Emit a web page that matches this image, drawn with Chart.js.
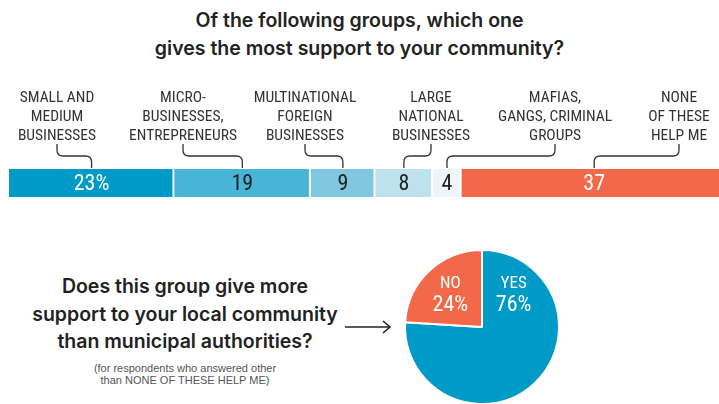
<!DOCTYPE html>
<html><head><meta charset="utf-8">
<script src="https://cdn.jsdelivr.net/npm/chart.js@4"></script>
<style>
html,body{margin:0;padding:0;width:719px;height:404px;overflow:hidden;background:#fff;}
#title{position:absolute;left:0;top:6px;width:719px;text-align:center;font:600 19.5px 'Inter',sans-serif;line-height:28px;color:#222;}
#barWrap{position:absolute;left:0;top:0;width:727px;height:210px;}
#pieWrap{position:absolute;left:402px;top:247px;width:160px;height:160px;}
#q{position:absolute;left:15px;top:273px;width:340px;text-align:center;font:600 19.5px 'Inter',sans-serif;line-height:27.5px;color:#222;}
#note{position:absolute;left:15px;top:363px;width:340px;text-align:center;font:11px 'Liberation Sans','Roboto',sans-serif;line-height:11.5px;color:#555;}
#arrow{position:absolute;left:340px;top:317px;}
</style></head><body>
<div id="title">Of the following groups, which one<br>gives the most support to your community?</div>
<div id="barWrap"><canvas id="bar" width="727" height="210"></canvas></div>
<div id="q">Does this group give more<br>support to your local community<br>than municipal authorities?</div>
<div id="note">(for respondents who answered other<br>than NONE OF THESE HELP ME)</div>
<svg id="arrow" width="55" height="20"><line x1="5" y1="10" x2="50" y2="10" stroke="#222" stroke-width="1.6"/><polyline points="43,4 50,10 43,16" fill="none" stroke="#222" stroke-width="1.6"/></svg>
<div id="pieWrap"><canvas id="pie" width="160" height="160"></canvas></div>
<script>
// ---- data ----
const categories = ['SMALL AND MEDIUM BUSINESSES','MICRO-BUSINESSES, ENTREPRENEURS','MULTINATIONAL FOREIGN BUSINESSES','LARGE NATIONAL BUSINESSES','MAFIAS, GANGS, CRIMINAL GROUPS','NONE OF THESE HELP ME'];
const categoryLines = [['SMALL AND','MEDIUM','BUSINESSES'],['MICRO-','BUSINESSES,','ENTREPRENEURS'],['MULTINATIONAL','FOREIGN','BUSINESSES'],['LARGE','NATIONAL','BUSINESSES'],['MAFIAS,','GANGS, CRIMINAL','GROUPS'],['NONE','OF THESE','HELP ME']];
const shares = [23,19,9,8,4,37];
const shareLabels = ['23%','19','9','8','4','37'];
const pieLabels = ['YES','NO'];
const pieValues = [76,24];
const pieValueLabels = ['76%','24%'];

// ---- styles / layout ----
const barColors = ['#009ac7','#48b4d6','#7fc8e0','#bde2ee','#eef6fa','#f26849'];
const valueTextColors = ['#fff','#222','#222','#222','#222','#fff'];
const labelCenters = [57,183,305,431,555,679];
const pieColors = ['#009ac7','#f26849'];
const NARROW = "'Liberation Sans Narrow','Roboto Condensed','Roboto',sans-serif";

function leader(ctx, x1, x2){
  const yTop=144, yMid=156, yBot=168, r=6;
  const dir = Math.sign(x2-x1) || 1;
  ctx.beginPath();
  ctx.moveTo(x1,yTop);
  ctx.lineTo(x1,yMid-r);
  ctx.quadraticCurveTo(x1,yMid,x1+dir*r,yMid);
  ctx.lineTo(x2-dir*r,yMid);
  ctx.quadraticCurveTo(x2,yMid,x2,yMid+r);
  ctx.lineTo(x2,yBot);
  ctx.stroke();
}

const barLabelPlugin = {
  id:'barLabels',
  afterDatasetsDraw(chart){
    const ctx = chart.ctx;
    ctx.save();
    ctx.textAlign='center'; ctx.textBaseline='middle';
    chart.data.datasets.forEach((ds,i)=>{
      const el = chart.getDatasetMeta(i).data[0];
      const p = el.getProps(['x','base','y'],true);
      const cx = (p.x+p.base)/2;
      ctx.fillStyle = valueTextColors[i];
      ctx.font = '22px '+NARROW;
      ctx.fillText(shareLabels[i], cx, p.y+1);
      ctx.fillStyle = '#333';
      ctx.font = '15.5px '+NARROW;
      categoryLines[i].forEach((t,k)=>ctx.fillText(t, labelCenters[i], 98+k*19));
      ctx.strokeStyle='#333'; ctx.lineWidth=1.3;
      leader(ctx, labelCenters[i], cx);
    });
    ctx.restore();
  }
};

new Chart(document.getElementById('bar'),{
  type:'bar',
  data:{labels:[''],datasets:categories.map((c,i)=>({label:c,data:[shares[i]],backgroundColor:barColors[i],borderColor:'#fff',borderWidth:{left:0,top:0,bottom:0,right:2},borderSkipped:false,barPercentage:1,categoryPercentage:1}))},
  options:{indexAxis:'y',responsive:false,animation:false,devicePixelRatio:1,
    layout:{padding:{left:9,right:0,top:169,bottom:13}},
    scales:{x:{stacked:true,min:0,max:100,display:false},y:{stacked:true,display:false}},
    plugins:{legend:{display:false},tooltip:{enabled:false}}},
  plugins:[barLabelPlugin]
});

const pieLabelPlugin = {
  id:'pieLabels',
  afterDatasetsDraw(chart){
    const ctx = chart.ctx;
    const arcs = chart.getDatasetMeta(0).data;
    const no = arcs[1];
    const midNo = (no.startAngle+no.endAngle)/2;
    const angles = [Math.PI - midNo, midNo];
    ctx.save();
    ctx.textAlign='center'; ctx.textBaseline='middle'; ctx.fillStyle='#fff';
    arcs.forEach((a,i)=>{
      const d = a.outerRadius*0.6;
      const x = a.x + Math.cos(angles[i])*d, y = a.y + Math.sin(angles[i])*d;
      ctx.font='17px '+NARROW;
      ctx.fillText(pieLabels[i], x, y-10);
      ctx.font='22px '+NARROW;
      ctx.fillText(pieValueLabels[i], x, y+12);
    });
    ctx.restore();
  }
};

new Chart(document.getElementById('pie'),{
  type:'pie',
  data:{labels:pieLabels,datasets:[{data:pieValues,backgroundColor:pieColors,borderColor:'#fff',borderWidth:2}]},
  options:{responsive:false,animation:false,devicePixelRatio:1,layout:{padding:2},
    plugins:{legend:{display:false},tooltip:{enabled:false}}},
  plugins:[pieLabelPlugin]
});
</script>
</body></html>
